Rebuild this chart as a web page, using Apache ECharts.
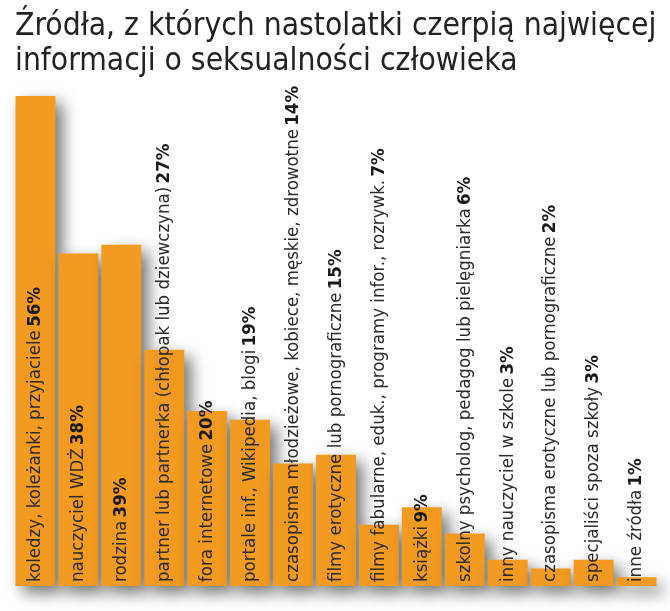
<!DOCTYPE html>
<html><head><meta charset="utf-8">
<script src="https://cdn.jsdelivr.net/npm/echarts@6/dist/echarts.min.js"></script>
<style>html,body{margin:0;padding:0;background:#fff}#c{width:670px;height:611px}</style>
</head><body><div id="c"></div>
<script>
const categories = [
  'koledzy, koleżanki, przyjaciele',
  'nauczyciel WDŻ',
  'rodzina',
  'partner lub partnerka (chłopak lub dziewczyna)',
  'fora internetowe',
  'portale inf., Wikipedia, blogi',
  'czasopisma młodzieżowe, kobiece, męskie, zdrowotne',
  'filmy erotyczne lub pornograficzne',
  'filmy fabularne, eduk., programy infor., rozrywk.',
  'książki',
  'szkolny psycholog, pedagog lub pielęgniarka',
  'inny nauczyciel w szkole',
  'czasopisma erotyczne lub pornograficzne',
  'specjaliści spoza szkoły',
  'inne źródła'
];
const values = [56, 38, 39, 27, 20, 19, 14, 15, 7, 9, 6, 3, 2, 3, 1];
const titleLines = ['Źródła, z których nastolatki czerpią najwięcej', 'informacji o seksualności człowieka'];

const FONT = '"Liberation Sans Narrow", "DejaVu Sans Condensed", "Roboto", sans-serif';
const chart = echarts.init(document.getElementById('c'));
chart.setOption({
  animation: false,
  title: {
    text: titleLines.join('\n'),
    left: 10, top: 4,
    textStyle: { fontFamily: FONT, fontSize: 31.5, fontWeight: 'normal', color: '#222', lineHeight: 35 }
  },
  grid: { left: 14, right: 12, top: 61, bottom: 25 },
  xAxis: {
    type: 'category', data: categories,
    axisLine: { show: false }, axisTick: { show: false }, axisLabel: { show: false }
  },
  yAxis: { type: 'value', min: 0, max: 60, show: false, splitLine: { show: false } },
  series: [{
    type: 'bar',
    data: values,
    barCategoryGap: '7%',
    itemStyle: {
      color: '#F39A21',
      shadowColor: 'rgba(0,0,0,0.55)',
      shadowBlur: 16,
      shadowOffsetX: 7,
      shadowOffsetY: 7
    },
    label: {
      show: true,
      position: 'insideBottom',
      distance: 4,
      rotate: 90,
      align: 'left',
      verticalAlign: 'middle',
      formatter: p => '{n|' + p.name + '} {b|' + p.value + '%}',
      rich: {
        n: { fontFamily: FONT, fontSize: 18.5, color: '#2a2a2a' },
        b: { fontFamily: FONT, fontSize: 18.5, fontWeight: 'bold', color: '#1a1a1a' }
      }
    }
  }]
});
</script></body></html>
